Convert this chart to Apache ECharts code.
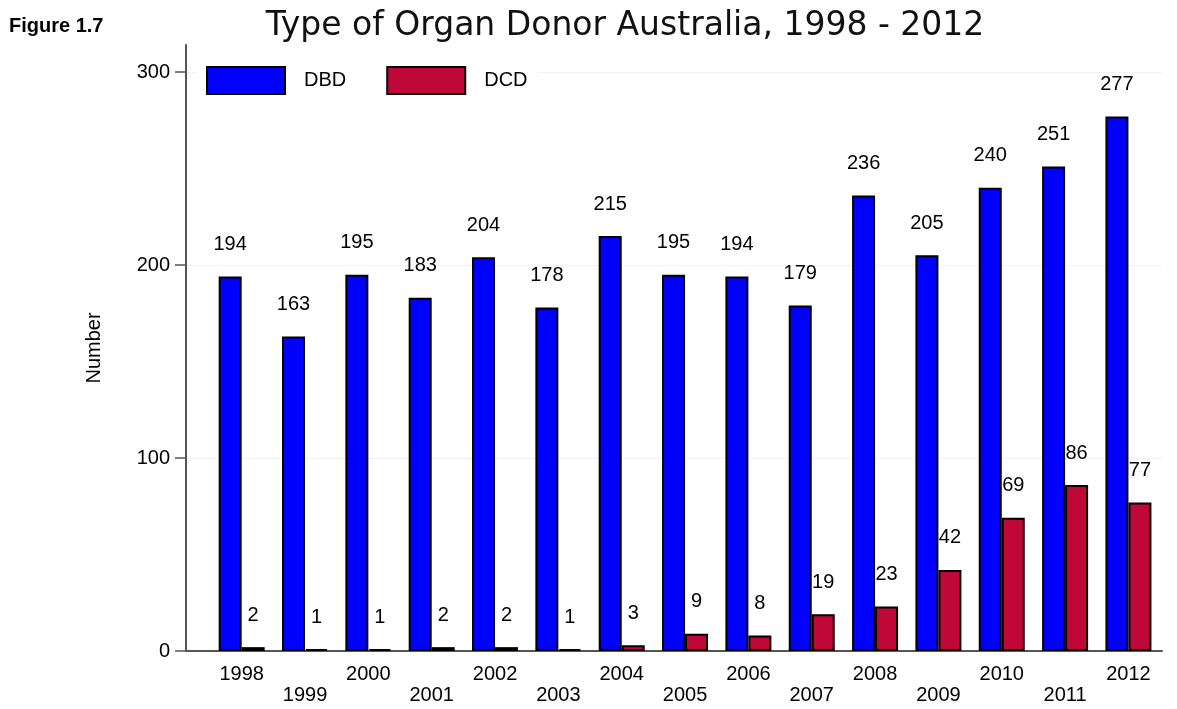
<!DOCTYPE html>
<html lang="en">

<head>
	<meta charset="UTF-8" />
	<script src="https://cdn.jsdelivr.net/npm/echarts@6/dist/echarts.min.js"></script>
	<title>Type of Organ Donor Australia</title>
	<style>
		html, body { margin: 0; padding: 0; background: #fff; }
	</style>
</head>

<body>
	<div id="main" style="width: 1177px; height: 709px"></div>

	<script type="text/javascript">
		const years = ['1998', '1999', '2000', '2001', '2002', '2003', '2004', '2005', '2006', '2007', '2008', '2009', '2010', '2011', '2012'];
		const dbd = [194, 163, 195, 183, 204, 178, 215, 195, 194, 179, 236, 205, 240, 251, 277];
		const dcd = [2, 1, 1, 2, 2, 1, 3, 9, 8, 19, 23, 42, 69, 86, 77];
		const yTicks = [0, 100, 200, 300];

		const chart = echarts.init(document.getElementById('main'));
		const font = 'Liberation Sans, Arial, sans-serif';
		const idx = years.map((y, i) => i);

		const labelStyle = {
			show: true,
			position: 'top',
			distance: 22,
			fontSize: 20,
			fontFamily: font,
			color: '#000',
		};

		const option = {
			animation: false,
			backgroundColor: '#fff',
			graphic: [
				{
					type: 'text',
					left: 9,
					top: 16,
					style: { text: 'Figure 1.7', fontSize: 20, fontWeight: 'bold', fontFamily: font, fill: '#000' },
				},
				{
					type: 'text',
					x: 625,
					y: 10,
					style: { text: 'Type of Organ Donor Australia, 1998 - 2012', fontSize: 33, fontFamily: 'DejaVu Sans', fill: '#111', align: 'center' },
				},
			],
			legend: {
				left: 196,
				top: 66,
				icon: 'rect',
				itemWidth: 78,
				itemHeight: 27,
				itemGap: 40,
				backgroundColor: '#fff',
				padding: [0, 10, 0, 10],
				textStyle: { fontSize: 20, fontFamily: font, color: '#000', padding: [0, 0, 0, 14] },
				itemStyle: { borderColor: '#000', borderWidth: 2 },
				data: ['DBD', 'DCD'],
			},
			grid: {
				left: 186,
				right: 15,
				top: 45,
				bottom: 58,
			},
			xAxis: {
				type: 'value',
				min: -0.879,
				max: 14.53,
				splitLine: { show: false },
				axisLine: { show: true, onZero: false, lineStyle: { color: '#555', width: 2 } },
				axisTick: { show: false },
				axisLabel: {
					customValues: idx,
					margin: 13,
					fontSize: 20,
					fontFamily: font,
					color: '#000',
					lineHeight: 21,
					formatter: v => (Math.round(v) % 2 ? '\n' : '') + years[Math.round(v)],
				},
			},
			yAxis: {
				type: 'value',
				min: 0,
				max: 314,
				name: 'Number',
				nameLocation: 'middle',
				nameGap: 82,
				nameTextStyle: { fontSize: 20, fontFamily: font, color: '#000' },
				axisLine: { show: true, onZero: false, lineStyle: { color: '#555', width: 2 } },
				axisTick: { show: true, length: 11, customValues: yTicks, lineStyle: { color: '#555', width: 1.5 } },
				axisLabel: { customValues: yTicks, margin: 16, fontSize: 20, fontFamily: font, color: '#000' },
				splitLine: { show: true, customValues: yTicks, lineStyle: { color: '#eef2f2', width: 1 } },
			},
			series: [
				{
					name: 'DBD',
					type: 'bar',
					barWidth: 23,
					barGap: '0%',
					data: dbd.map((v, i) => [i, v]),
					itemStyle: { color: '#0000ff', borderColor: '#000', borderWidth: 2 },
					label: labelStyle,
				},
				{
					name: 'DCD',
					type: 'bar',
					barWidth: 23,
					barGap: '0%',
					data: dcd.map((v, i) => [i, v]),
					itemStyle: { color: '#c00838', borderColor: '#000', borderWidth: 2 },
					label: labelStyle,
				},
			],
		};
		chart.setOption(option);
	</script>
</body>

</html>
